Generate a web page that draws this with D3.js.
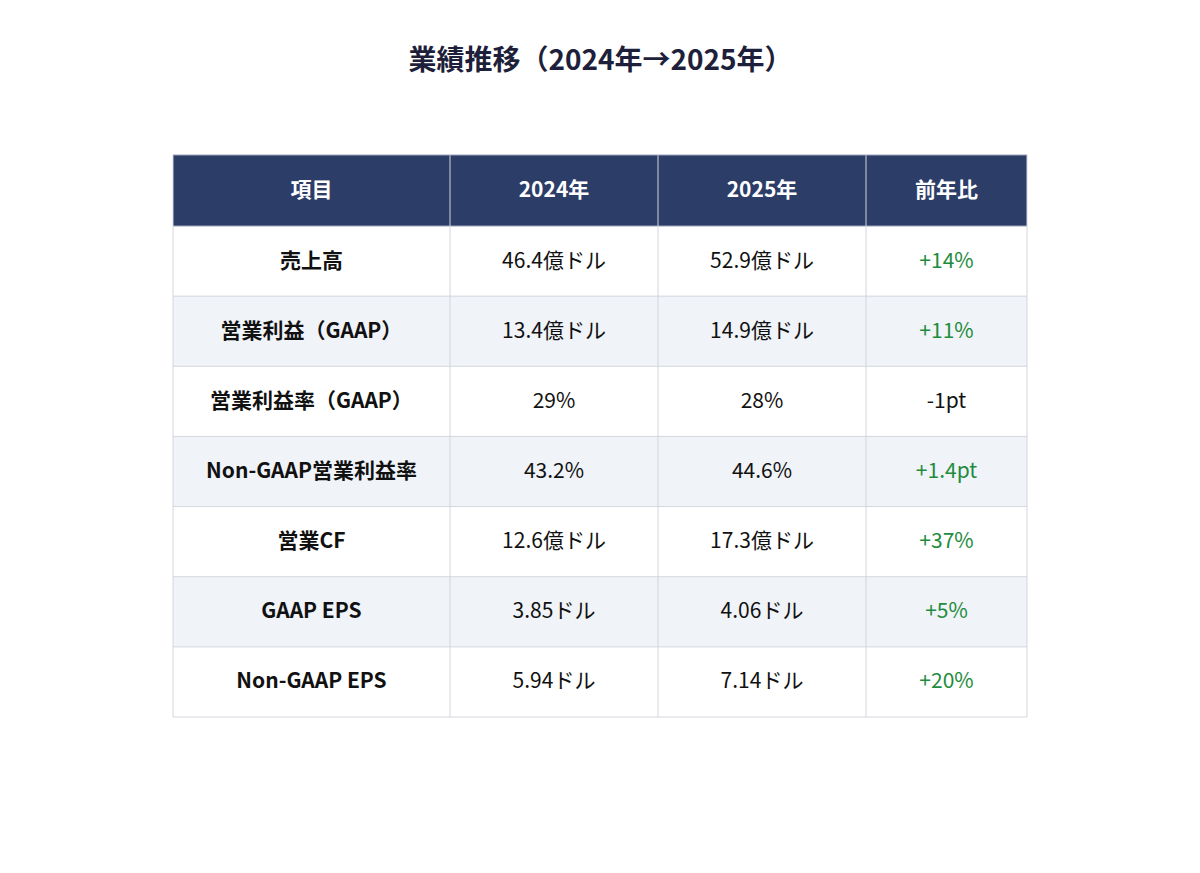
<!DOCTYPE html>
<html>
<head>
<meta charset="utf-8">
<script src="https://cdn.jsdelivr.net/npm/d3@7"></script>
<style>
  body { margin: 0; background: #fff; }
  text { font-family: "Noto Sans CJK JP", "Noto Sans", sans-serif; }
</style>
</head>
<body>
<div id="chart"></div>
<script>
// table contents
let title = "業績推移（2024年→2025年）"
let headers = ["項目", "2024年", "2025年", "前年比"]
let items = ["売上高", "営業利益（GAAP）", "営業利益率（GAAP）", "Non-GAAP営業利益率", "営業CF", "GAAP EPS", "Non-GAAP EPS"]
let values2024 = ["46.4億ドル", "13.4億ドル", "29%", "43.2%", "12.6億ドル", "3.85ドル", "5.94ドル"]
let values2025 = ["52.9億ドル", "14.9億ドル", "28%", "44.6%", "17.3億ドル", "4.06ドル", "7.14ドル"]
let changes = ["+14%", "+11%", "-1pt", "+1.4pt", "+37%", "+5%", "+20%"]

let width = 1200
let height = 873

let tableLeft = 173
let tableRight = 1027
let tableTop = 155
let headH = 71
let tableBottom = 717

let colEdges = [173, 450, 658, 866, 1027]

let svg = d3.select("#chart")
    .append("svg")
    .attr("width", width)
    .attr("height", height)

svg.append("text")
    .attr("x", width / 2 + 0.5)
    .attr("y", 58)
    .attr("text-anchor", "middle")
    .attr("dominant-baseline", "central")
    .style("font-size", "28px")
    .style("font-weight", 700)
    .style("fill", "#1e1f3b")
    .text(title)

let yScale = d3.scaleBand()
    .domain(d3.range(items.length))
    .range([tableTop + headH, tableBottom])

// header
svg.append("rect")
    .attr("x", tableLeft)
    .attr("y", tableTop)
    .attr("width", tableRight - tableLeft)
    .attr("height", headH)
    .style("fill", "#2c3d68")

headers.forEach(function(h, i){
    svg.append("text")
        .attr("x", (colEdges[i] + colEdges[i + 1]) / 2)
        .attr("y", tableTop + headH / 2 - 3)
        .attr("text-anchor", "middle")
        .attr("dominant-baseline", "central")
        .style("font-size", "21px")
        .style("font-weight", 700)
        .style("fill", "#ffffff")
        .text(h)
})

// body rows
let rows = svg.selectAll("g.row")
    .data(items)
    .enter()
    .append("g")
    .attr("class", "row")
    .attr("transform", function(d, i){ return `translate(0, ${yScale(i)})` })

rows.append("rect")
    .attr("x", tableLeft)
    .attr("width", tableRight - tableLeft)
    .attr("height", yScale.bandwidth())
    .style("fill", function(d, i){ return i % 2 ? "#f0f3f8" : "#ffffff" })

rows.each(function(d, i){
    let g = d3.select(this)
    let cells = [items[i], values2024[i], values2025[i], changes[i]]
    cells.forEach(function(c, j){
        let fill = "#111111"
        if (j === 3 && c.startsWith("+")) fill = "#1e8c3c"
        g.append("text")
            .attr("x", (colEdges[j] + colEdges[j + 1]) / 2)
            .attr("y", yScale.bandwidth() / 2 - 2.5)
            .attr("text-anchor", "middle")
            .attr("dominant-baseline", "central")
            .style("font-size", "21px")
            .style("font-weight", j === 0 ? 700 : 400)
            .style("fill", fill)
            .text(c)
    })
})

// grid lines
let lineColor = "#d3d6dc"
let hLines = [tableTop + headH].concat(items.map(function(d, i){ return yScale(i) + yScale.bandwidth() }))
hLines.forEach(function(y, i){
    svg.append("line")
        .attr("x1", tableLeft)
        .attr("x2", tableRight)
        .attr("y1", y)
        .attr("y2", y)
        .style("stroke", i === 0 ? "#9aa3b8" : lineColor)
        .style("stroke-width", 1)
})

colEdges.forEach(function(x){
    svg.append("line")
        .attr("x1", x)
        .attr("x2", x)
        .attr("y1", tableTop)
        .attr("y2", tableBottom)
        .style("stroke", lineColor)
        .style("stroke-width", 1)
})

svg.append("line")
    .attr("x1", tableLeft).attr("x2", tableRight)
    .attr("y1", tableTop).attr("y2", tableTop)
    .style("stroke", "#9aa3b8")
</script>
</body>
</html>
